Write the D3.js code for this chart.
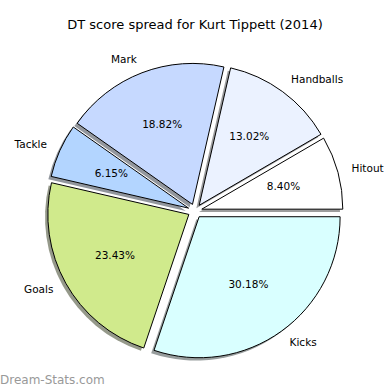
<!DOCTYPE html>
<html>
<head>
<meta charset="utf-8">
<script src="https://cdn.jsdelivr.net/npm/d3@7"></script>
<style>
  body { margin: 0; background: #fff; }
  text { font-family: "DejaVu Sans", sans-serif; }
</style>
</head>
<body>
<div id="chart"></div>
<script>
// data
const categories = ["Hitout", "Handballs", "Mark", "Tackle", "Goals", "Kicks"];
const values = [8.40, 13.02, 18.82, 6.15, 23.43, 30.18];
const colors = ["#ffffff", "#ebf2ff", "#c6d9ff", "#b3d5ff", "#d0ea8c", "#d9ffff"];

const width = 390, height = 390;
const cx = 195, cy = 211, r = 141;
const explode = 0.05 * r;

const svg = d3.select("#chart")
    .append("svg")
    .attr("width", width)
    .attr("height", height);

svg.append("text")
    .attr("x", 195)
    .attr("y", 25)
    .attr("text-anchor", "middle")
    .attr("dominant-baseline", "middle")
    .attr("font-size", 13)
    .text("DT score spread for Kurt Tippett (2014)");

// matplotlib style: start at 3 o'clock, go counter-clockwise
const pie = d3.pie().sort(null)
    .startAngle(Math.PI / 2)
    .endAngle(Math.PI / 2 - 2 * Math.PI);

const arcs = pie(values);
const arc = d3.arc().innerRadius(0).outerRadius(r);

function dir(d) {
    const m = (d.startAngle + d.endAngle) / 2;
    return [Math.sin(m), -Math.cos(m)];
}

const g = svg.append("g").attr("transform", `translate(${cx},${cy})`);

// shadows
g.selectAll("path.shadow")
    .data(arcs)
    .enter()
    .append("path")
    .attr("class", "shadow")
    .attr("d", arc)
    .attr("transform", d => {
        const [ux, uy] = dir(d);
        return `translate(${ux * explode - 0.02 * r},${uy * explode + 0.02 * r})`;
    })
    .attr("fill", (d, i) => {
        const c = d3.rgb(colors[i]);
        return d3.rgb(c.r * 0.3, c.g * 0.3, c.b * 0.3);
    })
    .attr("fill-opacity", 0.55)
    .attr("stroke", "none");

// slices
g.selectAll("path.slice")
    .data(arcs)
    .enter()
    .append("path")
    .attr("class", "slice")
    .attr("d", arc)
    .attr("transform", d => {
        const [ux, uy] = dir(d);
        return `translate(${ux * explode},${uy * explode})`;
    })
    .attr("fill", (d, i) => colors[i])
    .attr("stroke", "#000")
    .attr("stroke-width", 1);

// category labels
g.selectAll("text.label")
    .data(arcs)
    .enter()
    .append("text")
    .attr("class", "label")
    .attr("x", d => dir(d)[0] * (1.1 * r + explode))
    .attr("y", d => dir(d)[1] * (1.1 * r + explode))
    .attr("text-anchor", d => dir(d)[0] < 0 ? "end" : "start")
    .attr("dominant-baseline", "middle")
    .attr("font-size", 10.5)
    .text((d, i) => categories[i]);

// percentages
g.selectAll("text.pct")
    .data(arcs)
    .enter()
    .append("text")
    .attr("class", "pct")
    .attr("x", d => dir(d)[0] * (0.6 * r + explode))
    .attr("y", d => dir(d)[1] * (0.6 * r + explode))
    .attr("text-anchor", "middle")
    .attr("dominant-baseline", "middle")
    .attr("font-size", 10.5)
    .text(d => d.data.toFixed(2) + "%");

svg.append("text")
    .attr("x", 0)
    .attr("y", 384)
    .attr("font-size", 12)
    .attr("fill", "#999")
    .text("Dream-Stats.com");
</script>
</body>
</html>
